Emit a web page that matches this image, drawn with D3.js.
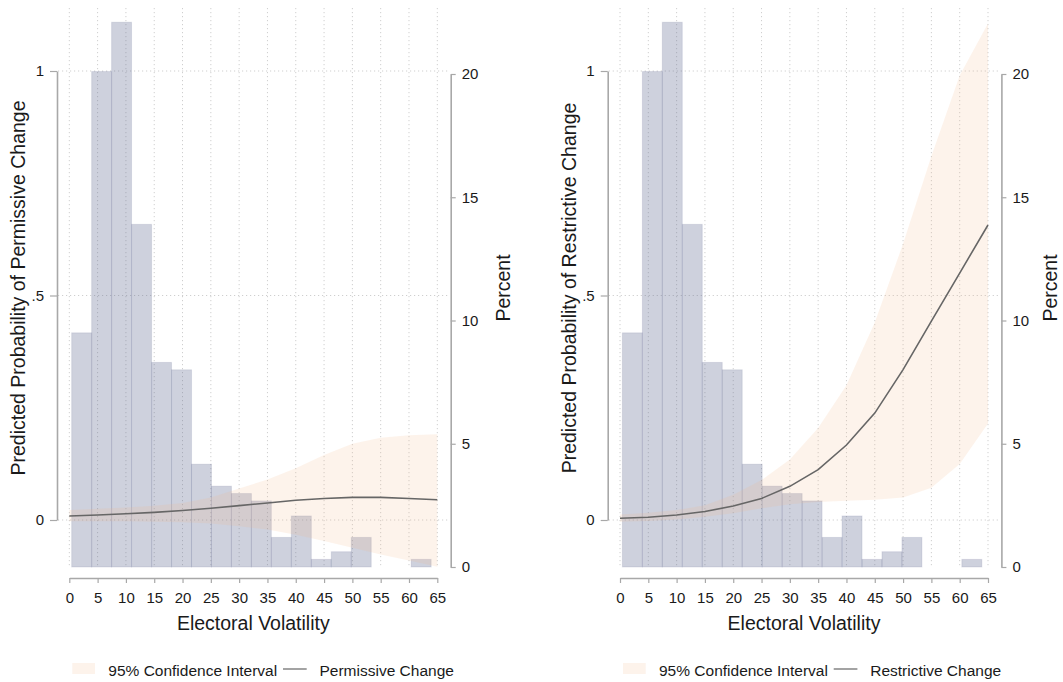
<!DOCTYPE html>
<html>
<head>
<meta charset="utf-8">
<script src="https://cdn.jsdelivr.net/npm/d3@7"></script>
<style>
  body { margin: 0; background: #fff; }
  svg { display: block; font-family: "Liberation Sans", Arial, Helvetica, sans-serif; }
</style>
</head>
<body>
<svg id="chart" width="1063" height="682"></svg>
<script>
// x positions of the margins (electoral volatility)
var volatility = [0, 5, 10, 15, 20, 25, 30, 35, 40, 45, 50, 55, 60, 65];
var volTickLabels = ["0", "5", "10", "15", "20", "25", "30", "35", "40", "45", "50", "55", "60", "65"];

// predicted probability + 95% CI, permissive change
var permissiveFit = [0.009, 0.011, 0.014, 0.017, 0.021, 0.026, 0.032, 0.038, 0.044, 0.048, 0.0505, 0.0505, 0.048, 0.045];
var permissiveLo  = [-0.003, -0.003, -0.003, -0.004, -0.005, -0.008, -0.014, -0.021, -0.033, -0.047, -0.062, -0.077, -0.09, -0.104];
var permissiveHi  = [0.022, 0.025, 0.028, 0.032, 0.038, 0.05, 0.07, 0.09, 0.115, 0.145, 0.17, 0.183, 0.189, 0.191];

// predicted probability + 95% CI, restrictive change
var restrictiveFit = [0.004, 0.006, 0.011, 0.019, 0.031, 0.048, 0.075, 0.112, 0.167, 0.238, 0.335, 0.443, 0.55, 0.657];
var restrictiveLo  = [-0.004, -0.002, 0.001, 0.007, 0.015, 0.026, 0.035, 0.04, 0.043, 0.045, 0.05, 0.072, 0.125, 0.215];
var restrictiveHi  = [0.012, 0.016, 0.022, 0.033, 0.056, 0.089, 0.135, 0.205, 0.3, 0.44, 0.615, 0.81, 0.99, 1.106];

// histogram of electoral volatility (percent of observations)
var binLeft = [0.42, 3.95, 7.47, 11.0, 14.53, 18.06, 21.58, 25.11, 28.64, 32.16, 35.69, 39.22, 42.74, 46.27, 49.8, 53.33, 56.85, 60.38];
var binWidth = 3.53;
var binPercent = [9.5, 20.1, 22.1, 13.9, 8.3, 8.0, 4.17, 3.28, 2.98, 2.68, 1.2, 2.07, 0.31, 0.62, 1.2, 0, 0, 0.31];

var probTicks = [0, 0.5, 1];
var probTickLabels = ["0", ".5", "1"];
var pctTicks = [0, 5, 10, 15, 20];

var svg = d3.select("#chart");

var bandColor = "#f2b98a",
    bandOpacity = 0.17,
    barColor = "#5c668e",
    lineColor = "#666666",
    axisColor = "#a8a8a8",
    gridColor = "#cfcfcf",
    textColor = "#1a1a1a";

function drawPanel(dx, fit, lo, hi, yTitle, lineName, pctTitleX) {
  var g = svg.append("g").attr("transform", "translate(" + dx + ",0)");

  var x = d3.scaleLinear().domain([0, 65]).range([69.3, 437.3]);
  var yProb = d3.scaleLinear().domain([0, 1]).range([520, 71]);
  var yPct = d3.scaleLinear().domain([0, 20]).range([567, 74]);

  // dotted grid
  g.append("g").selectAll("line")
    .data(volatility)
    .enter().append("line")
    .attr("x1", d => x(d)).attr("x2", d => x(d))
    .attr("y1", 8).attr("y2", yPct(0))
    .attr("stroke", gridColor).attr("stroke-dasharray", "1.2,2.8");
  g.append("g").selectAll("line")
    .data(probTicks)
    .enter().append("line")
    .attr("x1", 58).attr("x2", 450)
    .attr("y1", d => yProb(d)).attr("y2", d => yProb(d))
    .attr("stroke", gridColor).attr("stroke-dasharray", "1.2,2.8");

  // histogram
  g.append("g").selectAll("rect")
    .data(binPercent.map((p, i) => ({ x0: binLeft[i], p: p })).filter(d => d.p > 0))
    .enter().append("rect")
    .attr("x", d => x(d.x0))
    .attr("width", d => x(d.x0 + binWidth) - x(d.x0))
    .attr("y", d => yPct(d.p))
    .attr("height", d => yPct(0) - yPct(d.p))
    .attr("fill", barColor).attr("fill-opacity", 0.3)
    .attr("stroke", barColor).attr("stroke-opacity", 0.15).attr("stroke-width", 1);

  // confidence band
  var rows = volatility.map((v, i) => ({ v: v, fit: fit[i], lo: lo[i], hi: hi[i] }));
  g.append("path")
    .datum(rows)
    .attr("d", d3.area().x(d => x(d.v)).y0(d => yProb(d.lo)).y1(d => yProb(d.hi)))
    .attr("fill", bandColor).attr("fill-opacity", bandOpacity);

  // predicted probability
  g.append("path")
    .datum(rows)
    .attr("d", d3.line().x(d => x(d.v)).y(d => yProb(d.fit)))
    .attr("fill", "none").attr("stroke", lineColor).attr("stroke-width", 1.6);

  // axes
  var ax = g.append("g").attr("transform", "translate(0,578)")
    .call(d3.axisBottom(x).tickValues(volatility).tickFormat((d, i) => volTickLabels[i])
      .tickSize(5).tickSizeOuter(0).tickPadding(9.5));
  var ay = g.append("g").attr("transform", "translate(57,0)")
    .call(d3.axisLeft(yProb).tickValues(probTicks).tickFormat((d, i) => probTickLabels[i])
      .tickSize(7).tickSizeOuter(0).tickPadding(6));
  var ap = g.append("g").attr("transform", "translate(450.7,0)")
    .call(d3.axisRight(yPct).tickValues(pctTicks)
      .tickSize(5).tickSizeOuter(0).tickPadding(6));
  [ax, ay, ap].forEach(function (a) {
    a.select(".domain").attr("stroke", axisColor).attr("stroke-width", 1.6);
    a.selectAll(".tick line").attr("stroke", axisColor).attr("stroke-width", 1.2);
    a.selectAll(".tick text").attr("fill", textColor).style("font-size", "15px")
      .style("font-family", "Liberation Sans, Arial, sans-serif");
  });

  // titles
  g.append("text")
    .attr("x", 253.3).attr("y", 630)
    .attr("text-anchor", "middle").attr("fill", textColor)
    .style("font-size", "19.5px")
    .text("Electoral Volatility");
  g.append("text")
    .attr("transform", "translate(25,288) rotate(-90)")
    .attr("text-anchor", "middle").attr("fill", textColor)
    .style("font-size", "19.5px")
    .text(yTitle);
  g.append("text")
    .attr("transform", "translate(" + pctTitleX + ",288) rotate(-90)")
    .attr("text-anchor", "middle").attr("fill", textColor)
    .style("font-size", "19.5px")
    .text("Percent");

  // legend
  var lg = g.append("g").attr("transform", "translate(0,669)");
  lg.append("rect").attr("x", 72.3).attr("y", -6).attr("width", 22.7).attr("height", 11)
    .attr("fill", bandColor).attr("fill-opacity", bandOpacity);
  lg.append("text").attr("x", 108.3).attr("y", 6.5).attr("fill", textColor)
    .style("font-size", "15.5px").text("95% Confidence Interval");
  lg.append("line").attr("x1", 283).attr("x2", 306.7).attr("y1", 0).attr("y2", 0)
    .attr("stroke", lineColor).attr("stroke-width", 1.2);
  lg.append("text").attr("x", 319.5).attr("y", 6.5).attr("fill", textColor)
    .style("font-size", "15.5px").text(lineName);
}

drawPanel(0, permissiveFit, permissiveLo, permissiveHi,
  "Predicted Probability of Permissive Change", "Permissive Change", 510);
drawPanel(550.7, restrictiveFit, restrictiveLo, restrictiveHi,
  "Predicted Probability of Restrictive Change", "Restrictive Change", 506.5);
</script>
</body>
</html>
